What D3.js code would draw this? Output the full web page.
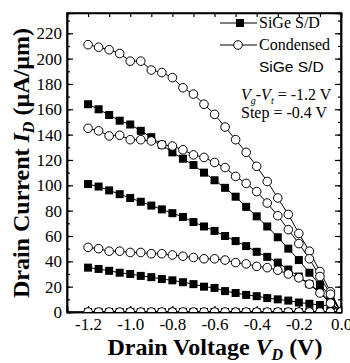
<!DOCTYPE html>
<html>
<head>
<meta charset="utf-8">
<script src="https://cdn.jsdelivr.net/npm/d3@7"></script>
<style>
body{margin:0;background:#fff}
svg{display:block}
text{font-family:"Liberation Serif","Times New Roman",serif;fill:#000}
</style>
</head>
<body>
<svg width="350" height="363"></svg>
<script>
// drain voltage (V)
const vd = [-1.2,-1.15,-1.1,-1.05,-1.0,-0.95,-0.9,-0.85,-0.8,-0.75,-0.7,-0.65,-0.6,-0.55,-0.5,-0.45,-0.4,-0.35,-0.3,-0.25,-0.2,-0.15,-0.1,-0.05,0]

// SiGe S/D (filled squares), uA/um
const sige1 = [164,160,155.5,151,148,143,138,132,126,121,116,110,104,98,91,83,75.5,67.5,59,50,41,31,21.5,12.5,0]
const sige2 = [101,99,96,93,90,87,84,81,78,75,71,67.5,64,60,56,52,47.5,43.5,39,33.5,28,22,16,8,0]
const sige3 = [35,34,32.5,31,30,28.5,27.5,26,25,23.5,22,20,19,16.5,15,13.5,12.5,11,10,9,7.5,6.5,5.5,5,0]
const sige4 = [0,0,0,0,0,0,0,0,0,0,0,0,0,0,0,0,0,0,0,0,0,0,0,0,0]

// Condensed SiGe S/D (open circles)
const cond1 = [211,209,207,204,198,198,191,189,185,177,172,164,156,146,136,126,115,103,90,77,62,48,32,16,0]
const cond2 = [145,143,139,139.5,136,136,135,132,131,128,124,122,118,114,107,101.5,95,86,76,65,54,42,28,14,0]
const cond3 = [51,50,48,48,47,47,46,46,45,44,43,42,42,41,39,38,36,35,33,30,27,22,15,7,0]
const cond4 = [0,0,0,0,0,0,0,0,0,0,0,0,0,0,0,0,0,0,0,0,0,0,0,0,0]

const xTicks = [-1.2,-1.0,-0.8,-0.6,-0.4,-0.2,0.0]
const yTicks = [0,20,40,60,80,100,120,140,160,180,200,220]

const sigeSeries = [sige1, sige2, sige3, sige4]
const condSeries = [cond1, cond2, cond3, cond4]

const serif = '"Liberation Serif","Times New Roman",serif'
const svg = d3.select("svg")
const L = 67, R = 341, T = 13, B = 312

const x = d3.scaleLinear().domain([-1.3, 0]).range([L, R])
const y = d3.scaleLinear().domain([0, 236]).range([B, T])

svg.append("defs").append("clipPath").attr("id","plot")
  .append("rect").attr("x",L).attr("y",T).attr("width",R-L).attr("height",B-T)

// minor ticks
const minorX = d3.range(-1.3, 0.001, 0.1)
const minorY = d3.range(0, 236, 10)
svg.append("g").attr("transform",`translate(0,${B})`)
  .call(d3.axisBottom(x).tickValues(minorX).tickSize(-4).tickFormat(""))
svg.append("g").attr("transform",`translate(0,${T})`)
  .call(d3.axisTop(x).tickValues(minorX).tickSize(-4).tickFormat(""))
svg.append("g").attr("transform",`translate(${L},0)`)
  .call(d3.axisLeft(y).tickValues(minorY).tickSize(-3).tickFormat(""))
svg.append("g").attr("transform",`translate(${R},0)`)
  .call(d3.axisRight(y).tickValues(minorY).tickSize(-3).tickFormat(""))

// major ticks with labels
const xAxis = svg.append("g").attr("transform",`translate(0,${B})`)
  .call(d3.axisBottom(x).tickValues(xTicks).tickSize(-6).tickPadding(6).tickFormat(d3.format(".1f")))
const yAxis = svg.append("g").attr("transform",`translate(${L},0)`)
  .call(d3.axisLeft(y).tickValues(yTicks).tickSize(-6).tickPadding(5))
svg.append("g").attr("transform",`translate(${R},0)`)
  .call(d3.axisRight(y).tickValues(yTicks).tickSize(-6).tickFormat(""))

svg.selectAll("g").attr("font-family", serif)
svg.selectAll(".domain").attr("stroke","#000").attr("stroke-width",1.5)
svg.selectAll(".tick line").attr("stroke","#000").attr("stroke-width",1.2)
svg.selectAll(".tick text").attr("font-size",17)
xAxis.selectAll(".tick text").text(d => d3.format(".1f")(d).replace("−","-"))

// border (top and right lines)
svg.append("rect").attr("x",L).attr("y",T).attr("width",R-L).attr("height",B-T)
  .attr("fill","none").attr("stroke","#000").attr("stroke-width",1.5)

const plot = svg.append("g").attr("clip-path","url(#plot)")
const line = d3.line().x((d,i) => x(vd[i])).y(d => y(d))

sigeSeries.concat(condSeries).forEach(s => {
  plot.append("path").datum(s).attr("d", line)
    .attr("fill","none").attr("stroke","#000").attr("stroke-width",1)
})
sigeSeries.forEach(s => {
  plot.append("g").selectAll("rect").data(s).join("rect")
    .attr("x",(d,i) => x(vd[i]) - 4).attr("y", d => y(d) - 4)
    .attr("width",8).attr("height",8).attr("fill","#000")
})
condSeries.forEach(s => {
  plot.append("g").selectAll("circle").data(s).join("circle")
    .attr("cx",(d,i) => x(vd[i])).attr("cy", d => y(d)).attr("r",4.3)
    .attr("fill","#fff").attr("stroke","#000").attr("stroke-width",1)
})

// legend
const lg = svg.append("g")
lg.append("line").attr("x1",220).attr("x2",257).attr("y1",23).attr("y2",23).attr("stroke","#000")
lg.append("rect").attr("x",236).attr("y",19).attr("width",8).attr("height",8).attr("fill","#000")
lg.append("text").attr("x",259).attr("y",28).attr("font-size",16).text("SiGe S/D")
lg.append("line").attr("x1",220).attr("x2",257).attr("y1",45).attr("y2",45).attr("stroke","#000")
lg.append("circle").attr("cx",238).attr("cy",45).attr("r",4.3).attr("fill","#fff").attr("stroke","#000")
lg.append("text").attr("x",259).attr("y",50).attr("font-size",16).text("Condensed")
lg.append("text").attr("x",259).attr("y",72).attr("font-size",15.5)
  .style("font-family",'"Liberation Sans",Arial,sans-serif').text("SiGe S/D")

// annotation
const ann = svg.append("text").attr("x",241).attr("y",100).attr("font-size",16)
ann.append("tspan").attr("font-style","italic").text("V")
ann.append("tspan").attr("font-style","italic").attr("font-size",10).attr("dy",4).text("g")
ann.append("tspan").attr("dy",-4).text("-")
ann.append("tspan").attr("font-style","italic").text("V")
ann.append("tspan").attr("font-style","italic").attr("font-size",10).attr("dy",4).text("t")
ann.append("tspan").attr("dy",-4).text(" = -1.2 V")
svg.append("text").attr("x",241).attr("y",118).attr("font-size",16).text("Step = -0.4 V")

// axis titles
const xt = svg.append("text").attr("x",215).attr("y",355).attr("text-anchor","middle")
  .attr("font-size",24).attr("font-weight","bold")
xt.append("tspan").text("Drain Voltage ")
xt.append("tspan").attr("font-style","italic").text("V")
xt.append("tspan").attr("font-size",16).attr("font-style","italic").attr("dy",5).text("D")
xt.append("tspan").attr("dy",-5).text(" (V)")

const yt = svg.append("text").attr("transform","translate(29,163) rotate(-90)")
  .attr("text-anchor","middle").attr("font-size",24).attr("font-weight","bold")
yt.append("tspan").text("Drain Current ")
yt.append("tspan").attr("font-style","italic").text("I")
yt.append("tspan").attr("font-size",16).attr("font-style","italic").attr("dy",5).text("D")
yt.append("tspan").attr("dy",-5).text(" (µA/µm)")
</script>
</body>
</html>
